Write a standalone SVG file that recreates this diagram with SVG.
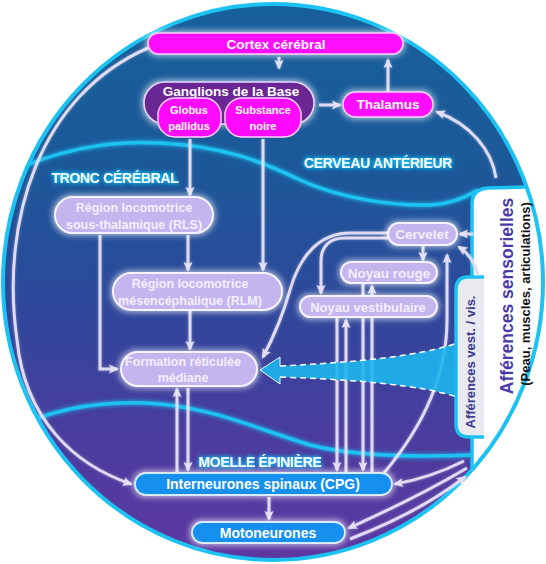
<svg xmlns="http://www.w3.org/2000/svg" width="546" height="564" viewBox="0 0 546 564">
<defs>
<linearGradient id="bg" x1="0" y1="0" x2="0" y2="564" gradientUnits="userSpaceOnUse">
<stop offset="0" stop-color="#17609b"/>
<stop offset="0.3" stop-color="#1c5899"/>
<stop offset="0.55" stop-color="#2f479b"/>
<stop offset="0.75" stop-color="#483d9e"/>
<stop offset="1" stop-color="#5e37a3"/>
</linearGradient>
<clipPath id="circ"><ellipse cx="273" cy="282" rx="271" ry="279"/></clipPath>
<filter id="ng" x="-30%" y="-60%" width="160%" height="220%">
<feMorphology in="SourceAlpha" operator="dilate" radius="1" result="d"/>
<feGaussianBlur in="d" stdDeviation="3" result="b"/>
<feFlood flood-color="#ffffff" flood-opacity="0.7"/>
<feComposite in2="b" operator="in" result="g"/>
<feMerge><feMergeNode in="g"/><feMergeNode in="SourceGraphic"/></feMerge>
</filter>
<filter id="lg" x="-15%" y="-60%" width="130%" height="220%">
<feGaussianBlur in="SourceAlpha" stdDeviation="2.2" result="b"/>
<feFlood flood-color="#12c8ff"/>
<feComposite in2="b" operator="in" result="g"/>
<feMerge><feMergeNode in="g"/><feMergeNode in="g"/><feMergeNode in="SourceGraphic"/></feMerge>
</filter>
<filter id="bgl" x="-5%" y="-20%" width="110%" height="140%">
<feGaussianBlur in="SourceGraphic" stdDeviation="2" result="b"/>
<feMerge><feMergeNode in="b"/><feMergeNode in="SourceGraphic"/></feMerge>
</filter>
<filter id="cg" x="-10%" y="-10%" width="120%" height="120%">
<feGaussianBlur in="SourceAlpha" stdDeviation="1.5" result="b"/>
<feFlood flood-color="#ffffff" flood-opacity="0.35"/>
<feComposite in2="b" operator="in" result="g"/>
<feMerge><feMergeNode in="g"/><feMergeNode in="SourceGraphic"/></feMerge>
</filter>
<marker id="ah" viewBox="0 0 10 10" refX="8" refY="5" markerUnits="userSpaceOnUse" markerWidth="10" markerHeight="10" orient="auto">
<path d="M0,0.5 L10,5 L0,9.5 L2,5 z" fill="#e4def4"/>
</marker>
<style>
.t{font-family:"Liberation Sans",Arial,sans-serif;font-weight:bold;text-anchor:middle;}
.mag{fill:#ff0aff;stroke:#ffd2ff;stroke-width:1.5;}
.lav{fill:#c5b5ef;stroke:#f6f2ff;stroke-width:2;}
.blu{fill:#1690ee;stroke:#d8ecff;stroke-width:1.8;}
.wt{fill:#ffffff;}
.lt{fill:#f3efff;}
.reg{fill:#eefcff;font-size:14px;letter-spacing:-0.3px;}
.bd{fill:none;stroke:#1cc2f2;stroke-width:3.5;}
.c{fill:none;stroke:#e0daf2;stroke-width:3;marker-end:url(#ah);}
</style>
</defs>

<g id="background" clip-path="url(#circ)">
<rect x="0" y="0" width="546" height="564" fill="url(#bg)"/>
<path class="bd" filter="url(#bgl)" d="M 0,178 C 50,150 110,140 160,143 C 220,146 260,160 300,180 C 340,198 390,206 430,205 C 450,204 465,198 478,190"/>
<path class="bd" filter="url(#bgl)" d="M 10,430 C 60,405 110,400 160,404 C 220,410 260,430 310,445 C 350,455 400,458 472,455"/>
<path d="M 600,185 L 488,188 Q 472,189 472,204 L 472,520 L 600,520 Z" fill="#ffffff" stroke="#1cc2f2" stroke-width="3.5"/>
<path d="M 484,277 L 468,277 Q 456,277 456,290 L 456,424 Q 456,437 469,437 L 484,437" fill="#e9e9f0" stroke="#1cc2f2" stroke-width="3.5"/>
</g>
<ellipse cx="273" cy="282" rx="270" ry="278" fill="none" stroke="#1cc2f2" stroke-width="4"/>

<g id="panel-afferences">
<text class="t" transform="translate(513,296) rotate(-90)" font-size="17.5" fill="#4a3aa8">Afférences sensorielles</text>
<text class="t" transform="translate(530,294) rotate(-90)" font-size="13" fill="#111111">(Peau, muscles, articulations)</text>
<text class="t" transform="translate(475,362) rotate(-90)" font-size="13" fill="#3c3a92">Afférences vest. / vis.</text>
</g>

<g id="region-labels" filter="url(#lg)">
<text class="t reg" x="378" y="168">CERVEAU ANTÉRIEUR</text>
<text class="t reg" x="115" y="183">TRONC CÉRÉBRAL</text>
<text class="t reg" x="260" y="467">MOELLE ÉPINIÈRE</text>
</g>

<g id="connectors" filter="url(#cg)">
<path class="c" d="M 279,57 L 279,68"/>
<path class="c" d="M 388,91 L 388,60"/>
<path class="c" d="M 319,105 L 340,105"/>
<path class="c" d="M 496,178 C 492,150 470,124 437,112"/>
<path class="c" d="M 148,48 C 40,95 0,220 17,340 C 25,420 75,465 131,484"/>
<path class="c" d="M 190,139 L 190,195"/>
<path class="c" d="M 263,139 L 263,270"/>
<path class="c" d="M 188,235 L 188,270"/>
<path class="c" d="M 100,235 L 100,369 L 117,369"/>
<path class="c" d="M 190,311 L 190,349"/>
<path class="c" d="M 177,472 L 177,389"/>
<path class="c" d="M 188,388 L 188,470"/>
<path class="c" d="M 388,233 L 350,233 C 320,233 300,255 290,290 C 282,318 272,340 263,357"/>
<path class="c" d="M 388,238 L 345,238 C 330,238 321,246 321,261 L 321,293"/>
<path class="c" d="M 423,246 L 423,260"/>
<path class="c" d="M 473,234 L 460,234"/>
<path class="c" d="M 478,275 Q 473,256 459,247"/>
<path class="c" d="M 384,473 C 420,430 447,380 447,320 L 447,255"/>
<path class="c" d="M 337,318 L 337,470"/>
<path class="c" d="M 346,472 L 346,320"/>
<path class="c" d="M 363,284 L 363,470"/>
<path class="c" d="M 372,472 L 372,286"/>
<path class="c" d="M 269,497 L 269,519"/>
<path class="c" d="M 464,461 Q 430,478 395,484"/>
<path class="c" d="M 467,468 Q 420,496 349,528"/>
<path class="c" d="M 350,539 Q 420,512 465,477"/>
</g>

<g id="funnel-vest-vis">
<path d="M 260,370 L 280,357 L 280,366 C 360,362 420,356 457,343 L 457,397 C 420,385 360,380 280,377 L 280,384 Z" fill="#1db5ec" fill-opacity="0.9"/>
<path d="M 280,366 C 360,362 420,356 457,343" fill="none" stroke="#ffffff" stroke-width="1.5" stroke-dasharray="6 4"/>
<path d="M 280,377 C 360,380 420,385 457,397" fill="none" stroke="#ffffff" stroke-width="1.5" stroke-dasharray="6 4"/>
<path d="M 280,366 L 280,357 L 260,370 L 280,384 L 280,377" fill="none" stroke="#e6f8ff" stroke-width="1"/>
</g>

<g id="cortex">
<rect class="mag" filter="url(#ng)" x="148" y="33" width="255" height="21" rx="10.5"/>
<text class="t wt" x="276" y="49" font-size="13.5">Cortex cérébral</text>
</g>
<g id="ganglions">
<rect filter="url(#ng)" x="144" y="82" width="170" height="42" rx="21" fill="#6a2892" stroke="#e8d8ff" stroke-width="1.5"/>
<text class="t wt" x="231" y="96" font-size="13.5">Ganglions de la Base</text>
</g>
<g id="globus">
<rect class="mag" x="158" y="98" width="63" height="39" rx="17"/>
<text class="t wt" x="189" y="114" font-size="11">Globus</text>
<text class="t wt" x="189" y="130" font-size="11">pallidus</text>
</g>
<g id="substance">
<rect class="mag" x="225" y="98" width="76" height="39" rx="17"/>
<text class="t wt" x="263" y="114" font-size="11">Substance</text>
<text class="t wt" x="263" y="130" font-size="11">noire</text>
</g>
<g id="thalamus">
<rect class="mag" filter="url(#ng)" x="343" y="92" width="90" height="25" rx="12.5"/>
<text class="t wt" x="388" y="109" font-size="13.5">Thalamus</text>
</g>
<g id="rls">
<rect class="lav" filter="url(#ng)" x="55" y="197" width="158" height="36" rx="18"/>
<text class="t lt" x="134" y="212" font-size="12.5">Région locomotrice</text>
<text class="t lt" x="134" y="229" font-size="12.5">sous-thalamique (RLS)</text>
</g>
<g id="rlm">
<rect class="lav" filter="url(#ng)" x="113" y="273" width="169" height="37" rx="18.5"/>
<text class="t lt" x="190" y="288" font-size="12.5">Région locomotrice</text>
<text class="t lt" x="190" y="305" font-size="12.5">mésencéphalique (RLM)</text>
</g>
<g id="formation">
<rect class="lav" filter="url(#ng)" x="121" y="352" width="136" height="34" rx="17"/>
<text class="t lt" x="183" y="366" font-size="12.5">Formation réticulée</text>
<text class="t lt" x="183" y="382" font-size="12.5">médiane</text>
</g>
<g id="cervelet">
<rect class="lav" filter="url(#ng)" x="388" y="223" width="69" height="22" rx="11"/>
<text class="t lt" x="422" y="239" font-size="13.5">Cervelet</text>
</g>
<g id="noyau-rouge">
<rect class="lav" filter="url(#ng)" x="341" y="262" width="96" height="21" rx="10.5"/>
<text class="t lt" x="389" y="278" font-size="13.5">Noyau rouge</text>
</g>
<g id="noyau-vestibulaire">
<rect class="lav" filter="url(#ng)" x="300" y="296" width="137" height="21" rx="10.5"/>
<text class="t lt" x="368" y="312" font-size="13">Noyau vestibulaire</text>
</g>
<g id="cpg">
<rect class="blu" filter="url(#ng)" x="135" y="473" width="257" height="22" rx="11"/>
<text class="t wt" x="263" y="489" font-size="14">Interneurones spinaux (CPG)</text>
</g>
<g id="motoneurones">
<rect class="blu" filter="url(#ng)" x="192" y="522" width="153" height="21" rx="10.5"/>
<text class="t wt" x="268" y="538" font-size="14">Motoneurones</text>
</g>
</svg>
